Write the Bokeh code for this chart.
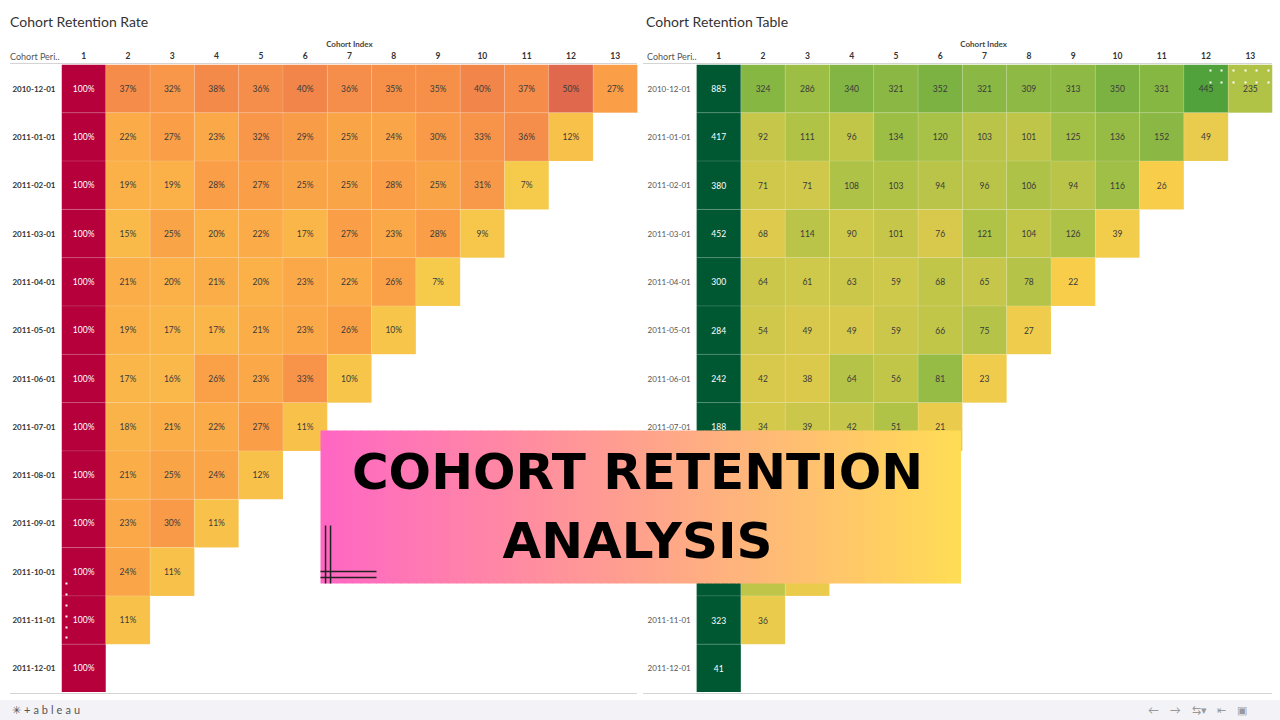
import numpy as np
from bokeh.plotting import figure
from bokeh.models import ColumnDataSource, FactorRange, LinearColorMapper, Label, Div, BoxAnnotation
from bokeh.layouts import column
from bokeh.transform import transform, dodge
from bokeh.core.properties import value
from bokeh.embed import file_html
from bokeh.resources import INLINE

# ---------------- data ----------------
periods = ["2010-12-01", "2011-01-01", "2011-02-01", "2011-03-01", "2011-04-01",
           "2011-05-01", "2011-06-01", "2011-07-01", "2011-08-01", "2011-09-01",
           "2011-10-01", "2011-11-01", "2011-12-01"]
cohort_index = [str(i) for i in range(1, 14)]

rate_rows = [
    [100, 37, 32, 38, 36, 40, 36, 35, 35, 40, 37, 50, 27],
    [100, 22, 27, 23, 32, 29, 25, 24, 30, 33, 36, 12],
    [100, 19, 19, 28, 27, 25, 25, 28, 25, 31, 7],
    [100, 15, 25, 20, 22, 17, 27, 23, 28, 9],
    [100, 21, 20, 21, 20, 23, 22, 26, 7],
    [100, 19, 17, 17, 21, 23, 26, 10],
    [100, 17, 16, 26, 23, 33, 10],
    [100, 18, 21, 22, 27, 11],
    [100, 21, 25, 24, 12],
    [100, 23, 30, 11],
    [100, 24, 11],
    [100, 11],
    [100],
]

count_rows = [
    [885, 324, 286, 340, 321, 352, 321, 309, 313, 350, 331, 445, 235],
    [417, 92, 111, 96, 134, 120, 103, 101, 125, 136, 152, 49],
    [380, 71, 71, 108, 103, 94, 96, 106, 94, 116, 26],
    [452, 68, 114, 90, 101, 76, 121, 104, 126, 39],
    [300, 64, 61, 63, 59, 68, 65, 78, 22],
    [284, 54, 49, 49, 59, 66, 75, 27],
    [242, 42, 38, 64, 56, 81, 23],
    [188, 34, 39, 42, 51, 21],
    [169, 35, 42, 41, 21],
    [299, 70, 90, 34],
    [358, 86, 41],
    [323, 36],
    [41],
]

titles = ["Cohort Retention Rate", "Cohort Retention Table"]
row_header = "Cohort Peri.."

LEFT_GROUP = "Cohort Index"
RIGHT_GROUP = "Cohort Index "   # same caption, distinct group factor

# ---------------- palettes ----------------
def hex2rgb(h):
    h = h.lstrip("#")
    return np.array([int(h[i:i + 2], 16) for i in (0, 2, 4)], dtype=float)

def build_palette(stops, low, high, n=256):
    pos = np.array([s[0] for s in stops], dtype=float)
    cols = np.array([hex2rgb(s[1]) for s in stops])
    vals = np.linspace(low, high, n)
    out = []
    for v in vals:
        rgb = [np.interp(v, pos, cols[:, k]) for k in range(3)]
        out.append("#%02x%02x%02x" % tuple(int(round(c)) for c in rgb))
    return out

orange_stops = [(7, "#F6CB4B"), (12, "#F8C04A"), (20, "#FBAF48"), (27, "#FA9F48"),
                (33, "#F79449"), (38, "#F48A4A"), (50, "#E0684C"), (100, "#B5003C")]
green_stops = [(7, "#F8CD4A"), (12, "#E8CB4D"), (22, "#C6C74A"), (30, "#A3C046"),
               (38, "#82B543"), (50, "#52A23C"), (100, "#005833")]

LOW, HIGH = 7, 100
orange_mapper = LinearColorMapper(palette=build_palette(orange_stops, LOW, HIGH), low=LOW, high=HIGH)
green_mapper = LinearColorMapper(palette=build_palette(green_stops, LOW, HIGH), low=LOW, high=HIGH)

# ---------------- sources ----------------
def make_source(group, labels_fn):
    xs, ys, rates, labels, tcol = [], [], [], [], []
    for i, per in enumerate(periods):
        for j, r in enumerate(rate_rows[i]):
            xs.append((group, cohort_index[j]))
            ys.append(per)
            rates.append(r)
            labels.append(labels_fn(i, j))
            tcol.append("#ffffff" if j == 0 else "#3a3a3a")
    return ColumnDataSource(dict(x=xs, y=ys, rate=rates, label=labels, tcolor=tcol))

left_src = make_source(LEFT_GROUP, lambda i, j: f"{rate_rows[i][j]}%")
right_src = make_source(RIGHT_GROUP, lambda i, j: f"{count_rows[i][j]}")

# ---------------- figure ----------------
x_factors = [(LEFT_GROUP, c) for c in cohort_index] + [(RIGHT_GROUP, c) for c in cohort_index]
x_range = FactorRange(*x_factors, group_padding=1.336, range_padding=0)
y_range = FactorRange(*reversed(periods), range_padding=0)

p = figure(width=1280, height=692, x_range=x_range, y_range=y_range,
           x_axis_location="above", output_backend="svg", toolbar_location=None,
           min_border_left=61, min_border_right=8, min_border_top=64, min_border_bottom=0)
p.outline_line_color = None
p.xgrid.visible = False
p.ygrid.visible = False
p.background_fill_color = "white"
p.border_fill_color = "white"

FONT = "Lato"

for src, mapper in ((left_src, orange_mapper), (right_src, green_mapper)):
    p.rect(x="x", y="y", width=1, height=1, source=src,
           fill_color=transform("rate", mapper), line_color="white", line_alpha=0.15, line_width=0.8)
    p.text(x="x", y="y", text="label", source=src, text_align="center", text_baseline="middle",
           text_font=value(FONT), text_font_size="8.5px", text_color="tcolor")

# right-hand row labels (inside the gap between the two tables)
rl_src = ColumnDataSource(dict(x=[(RIGHT_GROUP, "1")] * len(periods), y=periods, text=periods))
p.text(x=dodge("x", -1.606, range=p.x_range), y="y", text="text", source=rl_src,
       text_align="left", text_baseline="middle", text_font=value(FONT),
       text_font_size="8px", text_color="#555555")

# axes styling
xa = p.xaxis[0]
xa.axis_line_color = None
xa.major_tick_line_color = None
xa.minor_tick_line_color = None
xa.separator_line_color = None
xa.major_label_standoff = 0
xa.major_label_text_font = FONT
xa.major_label_text_font_size = "8.5px"
xa.major_label_text_font_style = "bold"
xa.major_label_text_color = "#333333"
xa.group_text_font = FONT
xa.group_text_font_size = "8px"
xa.group_text_font_style = "bold"
xa.group_text_color = "#444444"

ya = p.yaxis[0]
ya.axis_line_color = None
ya.major_tick_line_color = None
ya.minor_tick_line_color = None
ya.major_label_standoff = 0
ya.major_label_text_font = FONT
ya.major_label_text_font_size = "8px"
ya.major_label_text_font_style = "bold"
ya.major_label_text_color = "#333333"

# ---------------- canvas-positioned decorations ----------------
def canvas_label(x, y, text, **kw):
    p.add_layout(Label(x=x, y=y, x_units="canvas", y_units="canvas", text=text, **kw))

def canvas_box(l, r, t, b, color):
    p.add_layout(BoxAnnotation(left=l, right=r, top=t, bottom=b,
                               left_units="canvas", right_units="canvas",
                               top_units="canvas", bottom_units="canvas",
                               fill_color=color, fill_alpha=1.0, line_color=None))

# banner with horizontal gradient
edges = np.linspace(320, 960, 81)
c0, c1 = hex2rgb("#FF66C4"), hex2rgb("#FFDD55")
for l, r in zip(edges[:-1], edges[1:]):
    t = ((l + r) / 2 - 320) / 640
    col = "#%02x%02x%02x" % tuple(int(round(v)) for v in (c0 + (c1 - c0) * t))
    canvas_box(float(l), float(r) + 0.5, 430, 583, col)

# thin decorative lines on the banner
for l, r, t, b in ((324.3, 325.8, 525, 583), (329.3, 330.8, 525, 583),
                   (320, 376, 570.3, 571.8), (320, 376, 576.3, 577.8)):
    canvas_box(l, r, t, b, "#222222")

for yy, txt in ((471, "COHORT RETENTION"), (540, "ANALYSIS")):
    canvas_label(637, yy, txt, text_font="DejaVu Sans", text_font_style="bold",
                 text_font_size="50px", text_color="#000000", text_align="center",
                 text_baseline="middle")

# decorative dots
for yy in (583, 594, 605, 616, 627, 637):
    canvas_box(65, 67, yy - 1, yy + 1, "#ffffff")
for xx in (1210, 1221, 1233, 1245, 1256, 1268):
    for yy in (70, 82):
        canvas_box(xx - 1, xx + 1, yy - 1, yy + 1, "#ffffff")

# ---------------- footer (+ header texts positioned up into the page margin) ----------------
footer = Div(width=1280, height=28, margin=(0, 0, 0, 0), text=f"""
<div style="position:relative;width:1280px;height:28px;font-family:Lato,sans-serif;overflow:visible;">
  <div style="position:absolute;left:10px;top:-678px;font-size:14px;line-height:16px;color:#333;white-space:nowrap">{titles[0]}</div>
  <div style="position:absolute;left:646px;top:-678px;font-size:14px;line-height:16px;color:#333;white-space:nowrap">{titles[1]}</div>
  <div style="position:absolute;left:10px;top:-640px;font-size:9px;line-height:10px;color:#555;white-space:nowrap">{row_header}</div>
  <div style="position:absolute;left:647px;top:-640px;font-size:9px;line-height:10px;color:#555;white-space:nowrap">{row_header}</div>
  <div style="position:absolute;left:10px;top:-629px;width:627px;height:1px;background:#D4D4D4"></div>
  <div style="position:absolute;left:643px;top:-629px;width:629px;height:1px;background:#D4D4D4"></div>
  <div style="position:absolute;left:10px;top:1px;width:627px;height:1px;background:#D4D4D4"></div>
  <div style="position:absolute;left:643px;top:1px;width:629px;height:1px;background:#D4D4D4"></div>
  <div style="position:absolute;left:0;top:8px;width:1280px;height:20px;background:#F3F3F7"></div>
  <div style="position:absolute;left:12px;top:10px;font-size:11px;color:#555;letter-spacing:3px">&#10035;+ableau</div>
  <div style="position:absolute;left:1148px;top:10px;font-size:11px;color:#999;word-spacing:8px">&larr; &rarr; &#8646;&#9662; &#8676; &#9635;</div>
</div>
""")

layout = column(p, footer, spacing=0)
open("out.html", "w").write(file_html(layout, INLINE))
